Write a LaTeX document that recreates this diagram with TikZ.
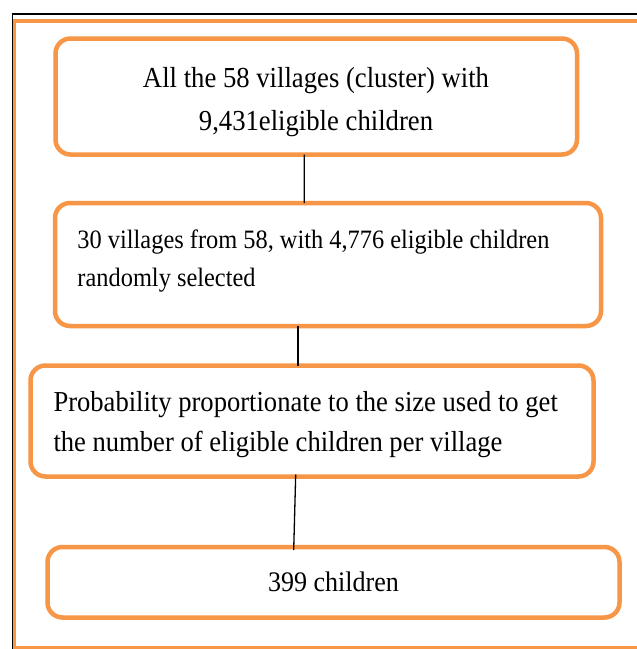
\documentclass[tikz,border=0pt]{standalone}
\usepackage{fontspec}
\newfontfamily\tnr[FakeStretch=0.92]{Liberation Serif}
\definecolor{boxorange}{HTML}{F79646}
\begin{document}
\begin{tikzpicture}[x=1pt,y=-1pt,
  flowbox/.style={draw=boxorange,line width=4.5pt,rounded corners=15pt,inner sep=0pt,outer sep=0pt,rectangle},
  conn/.style={draw=black,line width=1.3pt},
  tA/.style={inner sep=0pt,font=\tnr\fontsize{29}{34}\selectfont},
  tB/.style={inner sep=0pt,font=\tnr\fontsize{26.5}{32}\selectfont},
  tC/.style={inner sep=0pt,font=\tnr\fontsize{28.9}{34}\selectfont},
  tD/.style={inner sep=0pt,font=\tnr\fontsize{28.3}{34}\selectfont}]
\useasboundingbox (0,0) rectangle (637,649);
\clip (0,0) rectangle (637,649);
\fill[white] (0,0) rectangle (637,649);
% outer frame
\draw[boxorange,line width=4pt] (14,20.5) rectangle (645,647.5);
\draw[black,line width=1.6pt] (637,14.2) -- (12.5,14.2) -- (12.5,649);
% boxes
\node[flowbox,minimum width=521.5pt,minimum height=116pt] (b1) at (316.25,96.5) {};
\node[flowbox,minimum width=546pt,minimum height=123pt] (b2) at (328,264.5) {};
\node[flowbox,minimum width=563pt,minimum height=111pt] (b3) at (312,421) {};
\node[flowbox,minimum width=572pt,minimum height=70.5pt] (b4) at (333.5,582.25) {};
% texts
\node[tA,anchor=base] (t1a) at (316,87) {All the 58 villages (cluster) with};
\node[tA,anchor=base] (t1b) at (316,130) {9,431eligible children};
\node[tB,anchor=base west] (t2a) at (77.3,248.3) {30 villages from 58, with 4,776 eligible children};
\node[tB,anchor=base west] (t2b) at (77.3,286) {randomly selected};
\node[tC,anchor=base west] (t3a) at (53.3,411.7) {Probability proportionate to the size used to get};
\node[tC,anchor=base west] (t3b) at (53.3,451.7) {the number of eligible children per village};
\node[tD,anchor=base] (t4) at (333.5,591) {399 children};
% connectors
\draw[conn] ([xshift=-12pt]b1.south) -- ([xshift=-23.7pt]b2.north);
\draw[conn] ([xshift=-30pt]b2.south) -- ([xshift=-14pt]b3.north);
\draw[conn] ([xshift=-16.3pt,yshift=2pt]b3.south) -- ([xshift=-39.8pt,yshift=-3pt]b4.north);
\end{tikzpicture}
\end{document}
